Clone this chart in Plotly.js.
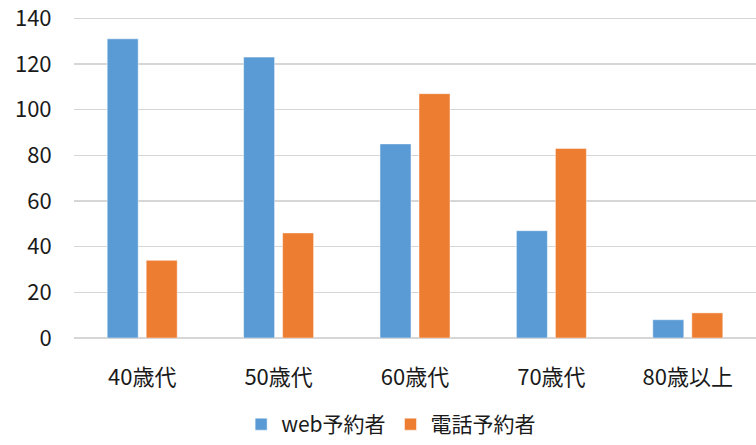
<!DOCTYPE html>
<html>
<head>
<meta charset="utf-8">
<script src="https://cdn.plot.ly/plotly-3.0.1.min.js"></script>
<style>html,body{margin:0;padding:0;background:#fff;}#chart{width:756px;height:445px;}</style>
</head>
<body>
<div id="chart"></div>
<script>
const categories = ["40歳代", "50歳代", "60歳代", "70歳代", "80歳以上"];
const webValues = [131, 123, 85, 47, 8];
const phoneValues = [34, 46, 107, 83, 11];
const seriesNames = ["web予約者", "電話予約者"];
const yTicks = [0, 20, 40, 60, 80, 100, 120, 140];

const FONT = '"Noto Sans CJK JP", "Noto Sans", sans-serif';

const traces = [
  {
    type: 'bar', name: seriesNames[0], x: categories, y: webValues,
    marker: {color: '#5B9BD5', line: {color: 'rgba(255,255,255,0.6)', width: 0.8}},
    hoverinfo: 'none'
  },
  {
    type: 'bar', name: seriesNames[1], x: categories, y: phoneValues,
    marker: {color: '#ED7D31', line: {color: 'rgba(255,255,255,0.6)', width: 0.8}},
    hoverinfo: 'none'
  }
];

const layout = {
  width: 756, height: 445,
  margin: {l: 74, r: 0, t: 16, b: 107, pad: 0, autoexpand: false},
  paper_bgcolor: '#ffffff', plot_bgcolor: '#ffffff',
  font: {family: FONT, size: 22, color: '#1a1a1a'},
  barmode: 'group',
  bargap: 0.428,
  bargroupgap: 0.205,
  showlegend: true,
  legend: {
    orientation: 'h', xref: 'paper', x: 0.465, xanchor: 'center',
    yref: 'container', y: -0.013, yanchor: 'bottom',
    font: {family: FONT, size: 21, color: '#1a1a1a'},
    itemwidth: 30, traceorder: 'normal', borderwidth: 0
  },
  xaxis: {
    type: 'category', showgrid: false, zeroline: false,
    showline: false,
    ticks: 'outside', ticklen: 20, tickcolor: 'rgba(0,0,0,0)',
    tickfont: {family: FONT, size: 22, color: '#1a1a1a'},
    fixedrange: true
  },
  yaxis: {
    range: [0, 141], tickvals: yTicks, ticktext: yTicks.map(String),
    ticklabeloverflow: 'allow',
    showgrid: true, gridcolor: '#D6D6D6', gridwidth: 1.4,
    zeroline: true, zerolinecolor: '#D6D6D6', zerolinewidth: 1.4,
    showline: false,
    ticks: 'outside', ticklen: 17, tickcolor: 'rgba(0,0,0,0)',
    tickfont: {family: FONT, size: 22, color: '#1a1a1a'},
    fixedrange: true
  }
};

Plotly.newPlot('chart', traces, layout, {displayModeBar: false, staticPlot: true});
</script>
</body>
</html>
